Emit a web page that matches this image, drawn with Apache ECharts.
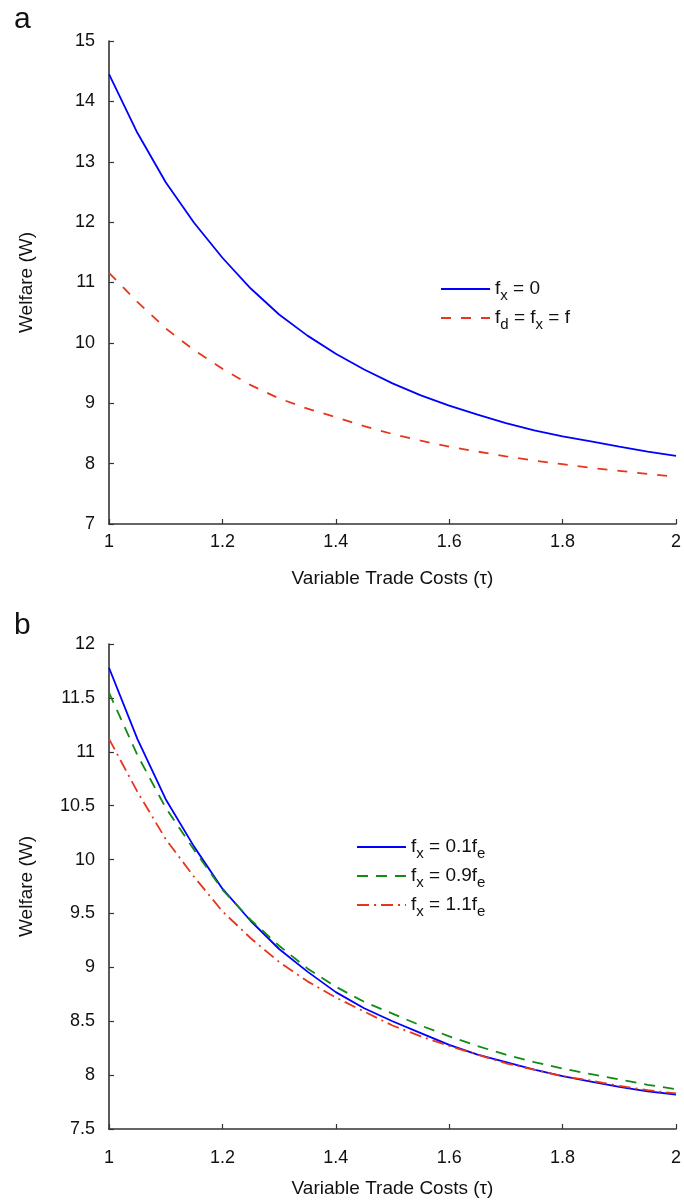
<!DOCTYPE html>
<html>
<head>
<meta charset="utf-8">
<script src="https://cdn.jsdelivr.net/npm/echarts@6/dist/echarts.min.js"></script>
<style>
  html, body { margin: 0; padding: 0; background: #fff; }
  #chart { width: 684px; height: 1201px; }
</style>
</head>
<body>
<div id="chart"></div>
<script>
(function () {
  'use strict';

  // variable trade costs (tau)
  var tau = [1.00, 1.05, 1.10, 1.15, 1.20, 1.25, 1.30, 1.35, 1.40, 1.45, 1.50,
             1.55, 1.60, 1.65, 1.70, 1.75, 1.80, 1.85, 1.90, 1.95, 2.00];

  // panel a
  var welfareFx0 = [14.45, 13.48, 12.66, 11.99, 11.41, 10.90, 10.47, 10.12, 9.82, 9.56, 9.33,
                    9.13, 8.96, 8.81, 8.67, 8.55, 8.45, 8.37, 8.28, 8.20, 8.13];
  var welfareFdFxF = [11.16, 10.68, 10.24, 9.88, 9.57, 9.30, 9.08, 8.91, 8.77, 8.62, 8.49,
                      8.38, 8.28, 8.20, 8.12, 8.05, 7.99, 7.93, 7.88, 7.83, 7.78];

  // panel b
  var welfare01 = [11.78, 11.12, 10.56, 10.12, 9.73, 9.43, 9.17, 8.96, 8.77, 8.62, 8.50,
                   8.39, 8.28, 8.19, 8.12, 8.05, 7.99, 7.94, 7.89, 7.85, 7.82];
  var welfare09 = [11.55, 10.97, 10.48, 10.09, 9.72, 9.44, 9.20, 8.99, 8.82, 8.68, 8.57,
                   8.46, 8.36, 8.27, 8.19, 8.12, 8.06, 8.01, 7.96, 7.91, 7.87];
  var welfare11 = [11.12, 10.63, 10.19, 9.84, 9.52, 9.27, 9.05, 8.87, 8.72, 8.59, 8.46,
                   8.36, 8.27, 8.19, 8.11, 8.05, 7.99, 7.95, 7.90, 7.86, 7.83];

  var legendA = ['fx0', 'fdfxf'];
  var legendB = ['fx01', 'fx09', 'fx11'];
  var legendText = {
    fx0: '{n|f}{s|x}{n| = 0}',
    fdfxf: '{n|f}{s|d}{n| = f}{s|x}{n| = f}',
    fx01: '{n|f}{s|x}{n| = 0.1f}{s|e}',
    fx09: '{n|f}{s|x}{n| = 0.9f}{s|e}',
    fx11: '{n|f}{s|x}{n| = 1.1f}{s|e}'
  };

  var font = 'Liberation Sans, Arial, sans-serif';
  var axisColor = '#333';
  var red = '#e8361c';

  function pairs(ys) {
    return tau.map(function (t, i) { return [t, ys[i]]; });
  }

  function xAxisOf(idx, nameGap, labelMargin) {
    return {
      type: 'value', gridIndex: idx, min: 1, max: 2, interval: 0.2,
      name: 'Variable Trade Costs (\u03c4)', nameLocation: 'middle', nameGap: nameGap,
      nameTextStyle: { fontFamily: font, fontSize: 19, color: '#111' },
      axisLine: { show: true, lineStyle: { color: axisColor, width: 1.6 } },
      axisTick: { show: true, inside: true, length: 5, lineStyle: { color: axisColor, width: 1.2 } },
      axisLabel: { fontFamily: font, fontSize: 18, color: '#111', margin: labelMargin },
      splitLine: { show: false }
    };
  }

  function yAxisOf(idx, min, max, interval) {
    return {
      type: 'value', gridIndex: idx, min: min, max: max, interval: interval,
      name: 'Welfare (W)', nameLocation: 'middle', nameGap: 73, nameRotate: 90,
      nameTextStyle: { fontFamily: font, fontSize: 19, color: '#111' },
      axisLine: { show: true, lineStyle: { color: axisColor, width: 1.6 } },
      axisTick: { show: true, inside: true, length: 5, lineStyle: { color: axisColor, width: 1.2 } },
      axisLabel: { fontFamily: font, fontSize: 18, color: '#111', margin: 14 },
      splitLine: { show: false }
    };
  }

  function lineSeries(name, idx, ys, color, type) {
    return {
      name: name, type: 'line', xAxisIndex: idx, yAxisIndex: idx,
      data: pairs(ys), showSymbol: false, symbol: 'none', smooth: false,
      lineStyle: { color: color, width: 1.8, type: type },
      itemStyle: { color: color },
      animation: false
    };
  }

  var rich = {
    n: { fontFamily: font, fontSize: 19, color: '#111', lineHeight: 20, verticalAlign: 'top' },
    s: { fontFamily: font, fontSize: 15, color: '#111', lineHeight: 15, verticalAlign: 'top', padding: [9, 0, 0, 0] }
  };

  // legend: line sample only, no symbol
  function legendOf(data, left, top, gap) {
    return {
      data: data, orient: 'vertical', left: left, top: top,
      itemWidth: 49, itemHeight: 14, itemGap: gap,
      itemStyle: { opacity: 0 },
      formatter: function (name) { return legendText[name]; },
      textStyle: { rich: rich }
    };
  }

  var option = {
    backgroundColor: '#fff',
    animation: false,
    title: [
      { text: 'a', left: 9, top: 0, textStyle: { fontFamily: font, fontSize: 30, fontWeight: 'normal', color: '#111' } },
      { text: 'b', left: 9, top: 606, textStyle: { fontFamily: font, fontSize: 30, fontWeight: 'normal', color: '#111' } }
    ],
    grid: [
      { left: 109, right: 5, top: 41, height: 483 },
      { left: 109, right: 5, top: 644, height: 485 }
    ],
    legend: [
      legendOf(legendA, 435, 274, 5),
      legendOf(legendB, 351, 832, 5)
    ],
    xAxis: [xAxisOf(0, 45, 9), xAxisOf(1, 50, 20)],
    yAxis: [yAxisOf(0, 7, 15, 1), yAxisOf(1, 7.5, 12, 0.5)],
    series: [
      lineSeries('fx0', 0, welfareFx0, '#0000ff', 'solid'),
      lineSeries('fdfxf', 0, welfareFdFxF, red, [10, 10]),
      lineSeries('fx01', 1, welfare01, '#0000ff', 'solid'),
      lineSeries('fx09', 1, welfare09, '#138a13', [11, 8]),
      lineSeries('fx11', 1, welfare11, red, [12, 5, 2, 5])
    ]
  };

  var myChart = echarts.init(document.getElementById('chart'), null, { renderer: 'canvas' });
  myChart.setOption(option);
})();
</script>
</body>
</html>
